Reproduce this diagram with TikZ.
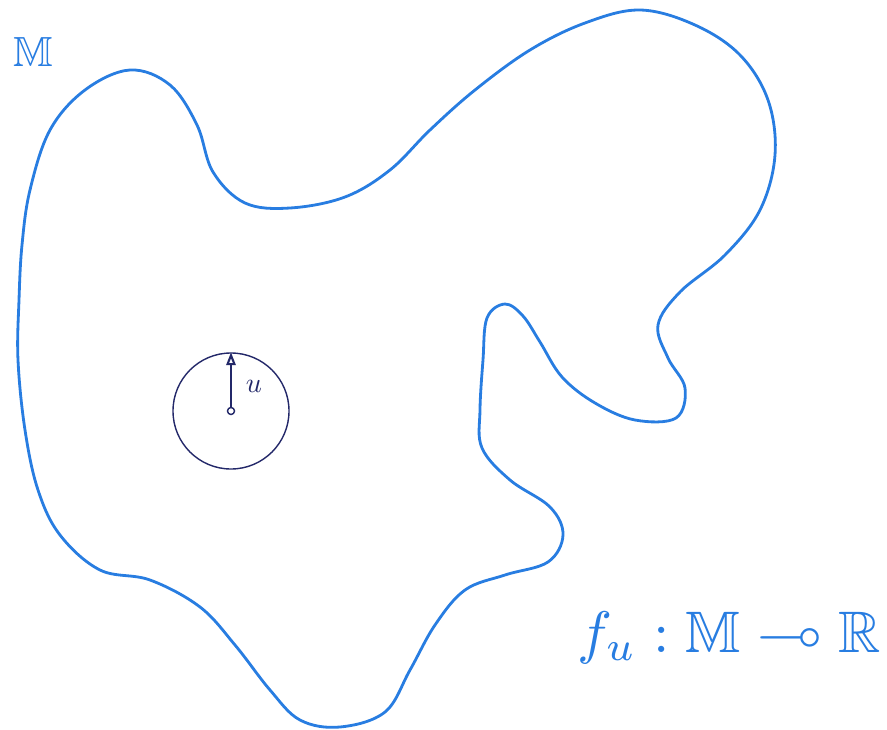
\documentclass[tikz,border=0pt]{standalone}
\usepackage{amssymb}
\usetikzlibrary{arrows.meta}
\definecolor{pen}{RGB}{40,125,225}
\definecolor{ink}{RGB}{35,40,105}
\begin{document}
\begin{tikzpicture}[x=0.03cm,y=-0.03cm,
  blob/.style={draw=pen,line width=2.4pt},
  disk/.style={draw=ink,line width=1.2pt},
  lbl/.style={text=pen,inner sep=0pt}]
\useasboundingbox (0,0) rectangle (887,730);
\draw[blob] plot[smooth cycle,tension=0.6] coordinates {
(22,245) (30,190) (50,130) (85,90) (130,70) (170,85) (197,125) (213,172) (245,203) (290,208) (345,197) (390,170) (430,130) (475,90) (530,50) (585,23) (640,10) (695,25) (740,55) (768,100) (775,155) (760,210) (725,255) (680,292) (658,325) (668,358) (685,388) (676,418) (635,420) (595,403) (562,377) (540,342) (523,316) (505,304) (487,318) (483,360) (480,410) (482,448) (510,480) (550,507) (563,535) (548,562) (505,575) (465,590) (435,625) (410,670) (385,712) (340,727) (300,720) (270,690) (235,645) (200,607) (150,580) (100,570) (60,535) (38,490) (25,430) (18,360) (19,300)};
\node[disk,circle,minimum size=3.48cm,inner sep=0pt] (ball) at (231,411) {};
\coordinate (c) at (231,411);
\node[draw=ink,circle,line width=1.2pt,minimum size=6pt,inner sep=0pt,fill=white] (ctr) at (c) {};
\draw[ink,line width=1.8pt,-{Triangle[open,length=11pt,width=8pt]}] (ctr) -- (ball.north);
\node[text=ink,inner sep=0pt,scale=2.4] (u) at (254,386) {$u$};
\node[lbl,scale=3.6] (M) at (33,52) {$\mathbb{M}$};
\node[lbl,scale=5,anchor=base east] (f) at (882,652) {$f_u:\mathbb{M}\multimap\mathbb{R}$};
\end{tikzpicture}
\end{document}
